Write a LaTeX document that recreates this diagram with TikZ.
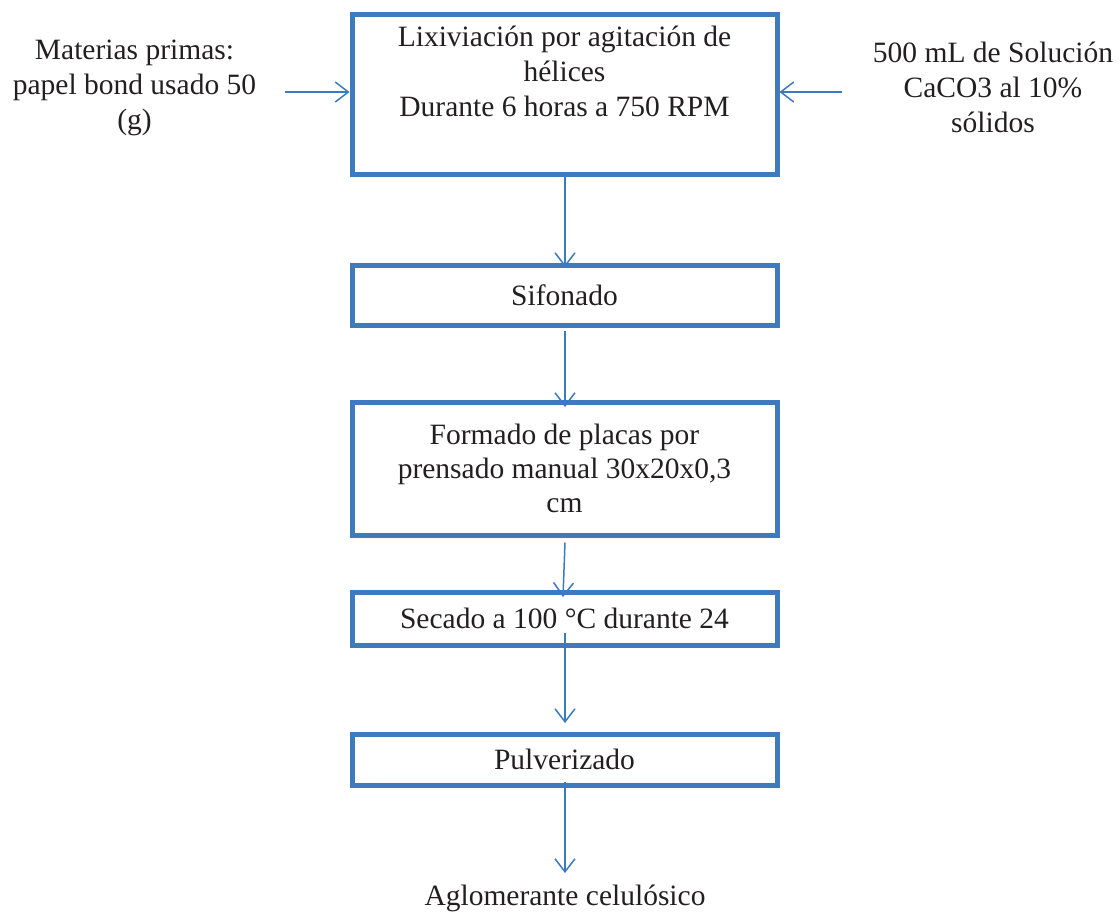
\documentclass[tikz,border=0pt]{standalone}
\usepackage{fontspec}
\setmainfont{Liberation Serif}
\usetikzlibrary{arrows.meta}
\definecolor{boxblue}{RGB}{64,122,190}
\definecolor{arrblue}{RGB}{58,122,192}
\definecolor{txt}{RGB}{35,31,32}
\tikzset{
  stepbox/.style={draw=boxblue, line width=5pt, minimum width=425pt, inner sep=0pt,
    text=txt, font=\fontsize{29.5}{34}\selectfont, align=center},
  plain/.style={text=txt, font=\fontsize{29.5}{35}\selectfont, align=center, inner sep=0pt},
  flow/.style={draw=arrblue, line width=1.5pt, -{Straight Barb[length=13pt,width=20pt]}},
}
\begin{document}
\begin{tikzpicture}[x=1pt,y=1pt]
\useasboundingbox (0,0) rectangle (1120,-922);

% boxes
\node[stepbox, minimum height=160pt] (b1) at (564.5,-94) {};
\node[plain] (t1) at (564.5,-71) {Lixiviación por agitación de\\hélices\\Durante 6 horas a 750 RPM};
\node[stepbox, minimum height=60pt] (b2) at (564.5,-295) {Sifonado};
\node[stepbox, minimum height=133pt] (b3) at (564.5,-468.5) {Formado de placas por\\prensado manual 30x20x0,3\\cm};
\node[stepbox, minimum height=53pt] (b4) at (564.5,-618.5) {Secado a 100 °C durante 24};
\node[stepbox, minimum height=51pt] (b5) at (564.5,-759.5) {Pulverizado};

% side texts
\node[plain] (tin) at (134.5,-88) {Materias primas:\\papel bond usado 50\\(g)};
\node[plain] (tsol) at (993,-87) {500 mL de Solución\\CaCO3 al 10\%\\sólidos};
\node[plain, anchor=base] (tout) at (565,-905) {Aglomerante celulósico};

% free ends
\coordinate (lin) at (285,-92);
\coordinate (rin) at (842,-92);
\coordinate (outend) at (565,-873);

% connectors
\draw[flow] (lin) -- (lin -| b1.west);
\draw[flow] (rin) -- (rin -| b1.east);
\draw[flow] ([xshift=0.5pt]b1.south) -- ([xshift=0.5pt,yshift=-4.5pt]b2.north);
\draw[flow] ([xshift=0.5pt,yshift=-3pt]b2.south) -- ([xshift=0.5pt,yshift=-7.5pt]b3.north);
\draw[flow] ([xshift=0.5pt,yshift=-5pt]b3.south) -- ([xshift=-1.5pt,yshift=-7.5pt]b4.north);
\draw[flow] ([xshift=0.5pt,yshift=14.5pt]b4.south) -- ([xshift=0.5pt,yshift=8.5pt]b5.north);
\draw[flow] ([xshift=0.5pt,yshift=5.5pt]b5.south) -- (outend);
\end{tikzpicture}
\end{document}
